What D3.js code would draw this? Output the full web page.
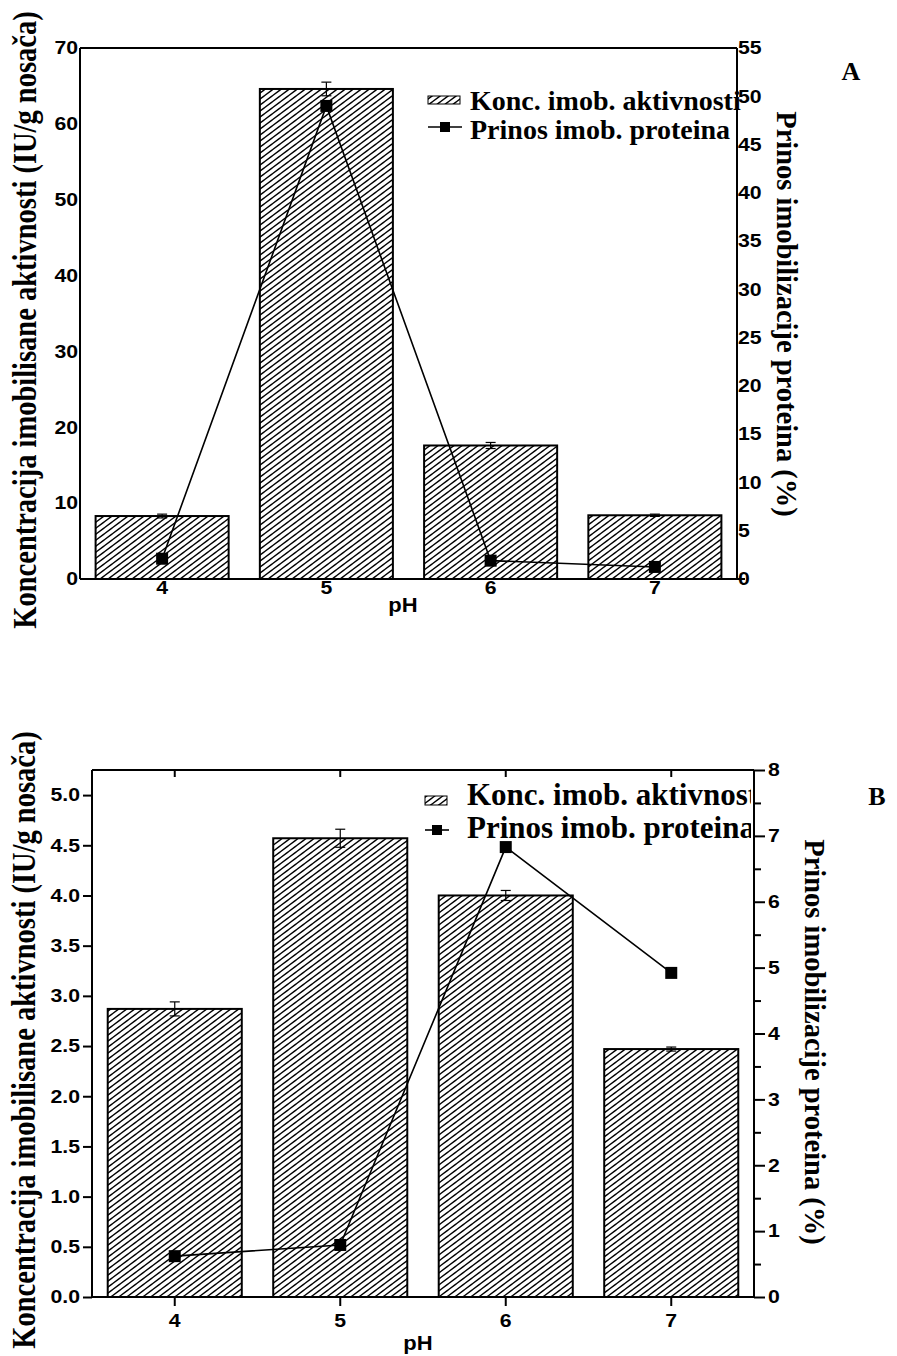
<!DOCTYPE html>
<html><head><meta charset="utf-8">
<script src="https://cdn.jsdelivr.net/npm/d3@7"></script>
<style>body{margin:0;background:#fff}svg{display:block}</style>
</head><body>
<script>
// ---- data ----
const phCats = ["4", "5", "6", "7"];
const activityA = [8.3, 64.6, 17.6, 8.4];
const activityErrA = [0.25, 0.9, 0.4, 0.15];
const yieldA = [2.1, 49.0, 1.9, 1.25];
const leftTicksA = [0, 10, 20, 30, 40, 50, 60, 70];
const rightTicksA = [0, 5, 10, 15, 20, 25, 30, 35, 40, 45, 50, 55];

const activityB = [2.87, 4.57, 4.0, 2.47];
const activityErrB = [0.07, 0.09, 0.05, 0.02];
const yieldB = [0.62, 0.79, 6.83, 4.92];
const leftTicksB = [0.0, 0.5, 1.0, 1.5, 2.0, 2.5, 3.0, 3.5, 4.0, 4.5, 5.0];
const rightTicksB = [0, 1, 2, 3, 4, 5, 6, 7, 8];
const rightMinorB = [0.5, 1.5, 2.5, 3.5, 4.5, 5.5, 6.5, 7.5];

const leftTitle = "Koncentracija imobilisane aktivnosti (IU/g nosača)";
const rightTitle = "Prinos imobilizacije proteina (%)";
const xTitle = "pH";
const legendBar = "Konc. imob. aktivnosti";
const legendLine = "Prinos imob. proteina";

const W = 897, H = 1356;
const svg = d3.select("body").append("svg").attr("width", W).attr("height", H);
const defs = svg.append("defs");
const pat = defs.append("pattern").attr("id", "hatch").attr("patternUnits", "userSpaceOnUse")
  .attr("width", 8).attr("height", 6);
pat.append("rect").attr("width", 8).attr("height", 6).attr("fill", "#fff");
pat.append("path").attr("d", "M0,6 L8,0 M-2,1.5 L2,-1.5 M6,7.5 L10,4.5")
  .attr("stroke", "#000").attr("stroke-width", 1.4).attr("fill", "none");

const SANS = "'Liberation Sans', Arial, sans-serif";
const SERIF = "'Liberation Serif', 'Times New Roman', serif";

function stretch(sel, k) {
  sel.each(function () {
    const len = this.getComputedTextLength();
    if (len > 0) d3.select(this).attr("textLength", len * k).attr("lengthAdjust", "spacingAndGlyphs");
  });
}

function panel(cfg) {
  const g = svg.append("g");
  const x = d3.scaleBand().domain(phCats).range([cfg.left, cfg.right]).paddingInner(0.19).paddingOuter(0.095);
  const yL = d3.scaleLinear().domain(cfg.leftDomain).range([cfg.bottom, cfg.top]);
  const yR = d3.scaleLinear().domain(cfg.rightDomain).range([cfg.bottom, cfg.top]);

  // bars
  g.selectAll(".bar").data(cfg.bars).enter().append("rect")
    .attr("x", (d, i) => x(phCats[i])).attr("width", x.bandwidth())
    .attr("y", d => yL(d)).attr("height", d => yL(0) - yL(d))
    .attr("fill", "url(#hatch)").attr("stroke", "#000").attr("stroke-width", 2);

  // error bars
  const eg = g.append("g").attr("stroke", "#000").attr("stroke-width", 1.2);
  cfg.bars.forEach((v, i) => {
    const cx = x(phCats[i]) + x.bandwidth() / 2, e = cfg.errs[i];
    eg.append("line").attr("x1", cx).attr("x2", cx).attr("y1", yL(v - e)).attr("y2", yL(v + e));
    eg.append("line").attr("x1", cx - 5).attr("x2", cx + 5).attr("y1", yL(v - e)).attr("y2", yL(v - e));
    eg.append("line").attr("x1", cx - 5).attr("x2", cx + 5).attr("y1", yL(v + e)).attr("y2", yL(v + e));
  });

  // line + markers
  const line = d3.line().x((d, i) => x(phCats[i]) + x.bandwidth() / 2).y(d => yR(d));
  g.append("path").datum(cfg.line).attr("d", line).attr("fill", "none").attr("stroke", "#000").attr("stroke-width", 1.6);
  g.selectAll(".mk").data(cfg.line).enter().append("rect")
    .attr("x", (d, i) => x(phCats[i]) + x.bandwidth() / 2 - 6).attr("y", d => yR(d) - 6)
    .attr("width", 12).attr("height", 12).attr("fill", "#000");

  // frame
  const fr = g.append("g").attr("stroke", "#000").attr("stroke-width", 2).attr("fill", "none");
  fr.append("line").attr("x1", cfg.left).attr("x2", cfg.right).attr("y1", cfg.top).attr("y2", cfg.top);
  fr.append("line").attr("x1", cfg.left).attr("x2", cfg.right + cfg.bottomExtra).attr("y1", cfg.bottom).attr("y2", cfg.bottom);
  fr.append("line").attr("x1", cfg.left).attr("x2", cfg.left).attr("y1", cfg.top).attr("y2", cfg.bottom);
  fr.append("line").attr("x1", cfg.right).attr("x2", cfg.right).attr("y1", cfg.top).attr("y2", cfg.bottom);

  // left axis
  const la = g.append("g").attr("transform", `translate(${cfg.left},0)`)
    .call(d3.axisLeft(yL).tickValues(cfg.leftTicks).tickSize(cfg.tickLen).tickPadding(cfg.tickLen ? 3 : 2)
      .tickFormat(cfg.leftFmt));
  // right axis
  const ra = g.append("g").attr("transform", `translate(${cfg.right},0)`)
    .call(d3.axisRight(yR).tickValues(cfg.rightTicks).tickSize(cfg.tickLen ? 11 : 0).tickPadding(cfg.tickLen ? 3 : 1)
      .tickFormat(d3.format("d")));
  if (cfg.rightMinor) {
    g.append("g").attr("transform", `translate(${cfg.right},0)`)
      .call(d3.axisRight(yR).tickValues(cfg.rightMinor).tickSize(7).tickFormat(""));
  }
  // bottom axis
  const ba = g.append("g").attr("transform", `translate(0,${cfg.bottom})`)
    .call(d3.axisBottom(x).tickSize(cfg.tickLen).tickPadding(cfg.tickLen ? 8 : 2));
  if (cfg.tickLen) {
    g.append("g").attr("transform", `translate(0,${cfg.top})`)
      .call(d3.axisBottom(x).tickSize(7).tickFormat(""));
  }
  [la, ra, ba].forEach(a => {
    a.selectAll(".domain").remove();
    a.attr("font-size", null).attr("font-family", null);
    const t = a.selectAll("text").style("font-family", SANS).style("font-weight", "bold").style("font-size", "18px").attr("fill", "#000");
    stretch(t, 1.18);
  });
  g.selectAll(".domain").remove();
  g.selectAll(".tick line").attr("stroke", "#000").attr("stroke-width", 2);

  // x title
  const xt = g.append("text").attr("x", cfg.xTitleX).attr("y", cfg.xTitleY).attr("text-anchor", "middle")
    .style("font-family", SANS).style("font-size", "20px").style("font-weight", "bold").text(xTitle);
  stretch(xt, 1.1);

  // left title
  g.append("text").attr("transform", `translate(${cfg.lTitleX},${cfg.lTitleY}) rotate(-90) scale(1,1.15)`)
    .attr("text-anchor", "middle").attr("dy", "0.35em")
    .style("font-family", SERIF).style("font-weight", "bold").style("font-size", "28.5px").text(leftTitle);
  // right title
  g.append("text").attr("transform", `translate(${cfg.rTitleX},${cfg.rTitleY}) rotate(90)`)
    .attr("text-anchor", "middle").attr("dy", "0.35em")
    .style("font-family", SERIF).style("font-weight", "bold").style("font-size", "28.5px").text(rightTitle);

  // panel letter
  g.append("text").attr("x", cfg.letterX).attr("y", cfg.letterY).attr("text-anchor", "middle")
    .style("font-family", SERIF).style("font-weight", "bold").style("font-size", "26px").text(cfg.letter);

  // legend
  const lg = g.append("g");
  if (cfg.clipLegend) {
    defs.append("clipPath").attr("id", "clip" + cfg.letter).append("rect")
      .attr("x", cfg.left).attr("y", cfg.top).attr("width", cfg.right - cfg.left - 3).attr("height", cfg.bottom - cfg.top);
    lg.attr("clip-path", `url(#clip${cfg.letter})`);
  }
  const L = cfg.legend;
  lg.append("rect").attr("x", L.x).attr("y", L.y1 - L.sh).attr("width", L.sw).attr("height", L.sh)
    .attr("fill", "url(#hatch)").attr("stroke", "#000").attr("stroke-width", 1);
  lg.append("line").attr("x1", L.x).attr("x2", L.x + L.sw + 2).attr("y1", L.y2).attr("y2", L.y2)
    .attr("stroke", "#000").attr("stroke-width", 1.6);
  lg.append("rect").attr("x", L.x + (L.sw + 2) / 2 - 5).attr("y", L.y2 - 5).attr("width", 10).attr("height", 10).attr("fill", "#000");
  lg.append("text").attr("x", L.tx).attr("y", L.ty1).style("font-family", SERIF).style("font-weight", "bold")
    .style("font-size", L.fs + "px").text(legendBar);
  lg.append("text").attr("x", L.tx).attr("y", L.ty2).style("font-family", SERIF).style("font-weight", "bold")
    .style("font-size", L.fs + "px").text(legendLine);
}

panel({
  letter: "A", left: 80, right: 737, top: 48, bottom: 579, bottomExtra: 8,
  leftDomain: [0, 70], rightDomain: [0, 55],
  bars: activityA, errs: activityErrA, line: yieldA,
  leftTicks: leftTicksA, rightTicks: rightTicksA, rightMinor: null, tickLen: 0,
  leftFmt: d3.format("d"),
  xTitleX: 403, xTitleY: 612, lTitleX: 25, lTitleY: 320, rTitleX: 787, rTitleY: 314,
  letterX: 851, letterY: 80,
  legend: { x: 428, sw: 32, sh: 8, y1: 104, y2: 127, tx: 470, ty1: 110, ty2: 139, fs: 28 },
  clipLegend: false
});

panel({
  letter: "B", left: 92, right: 754, top: 770, bottom: 1297, bottomExtra: 0,
  leftDomain: [0, 5.25], rightDomain: [0, 8],
  bars: activityB, errs: activityErrB, line: yieldB,
  leftTicks: leftTicksB, rightTicks: rightTicksB, rightMinor: rightMinorB, tickLen: 9,
  leftFmt: d3.format(".1f"),
  xTitleX: 418, xTitleY: 1350, lTitleX: 24, lTitleY: 1040, rTitleX: 815, rTitleY: 1042,
  letterX: 877, letterY: 805,
  legend: { x: 425, sw: 22, sh: 9, y1: 805, y2: 830, tx: 467, ty1: 805, ty2: 838, fs: 31 },
  clipLegend: true
});
</script>
</body></html>
